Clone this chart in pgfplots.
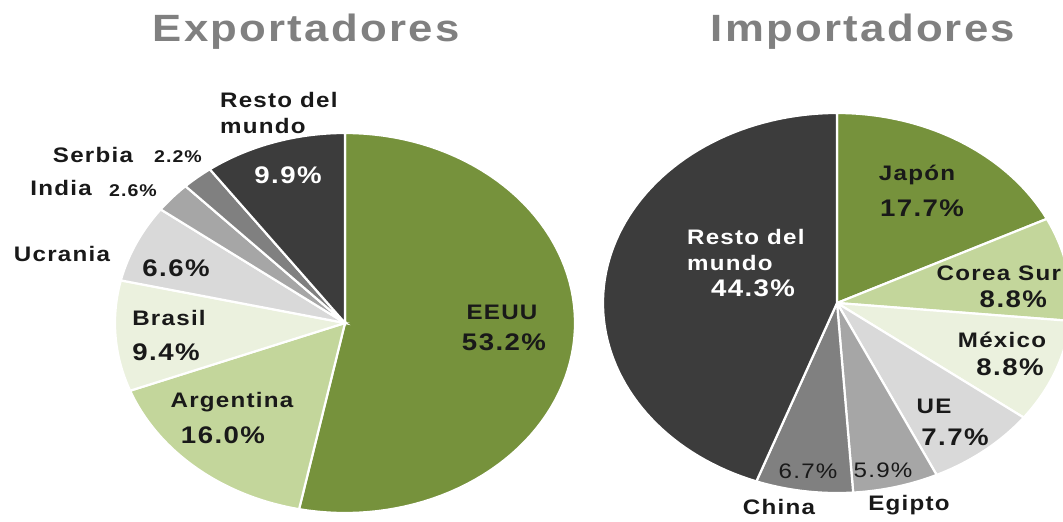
\documentclass[border=0pt]{standalone}
\usepackage{pgfplots}
\pgfplotsset{compat=1.18}
\usepackage{fontspec}
\setmainfont{Liberation Sans}[FakeStretch=1.15, LetterSpace=6]

\definecolor{cA}{RGB}{118,146,60}
\definecolor{cB}{RGB}{195,214,155}
\definecolor{cC}{RGB}{235,241,222}
\definecolor{cD}{RGB}{217,217,217}
\definecolor{cE}{RGB}{166,166,166}
\definecolor{cF}{RGB}{128,128,128}
\definecolor{cG}{RGB}{60,60,60}
\definecolor{txt}{RGB}{25,25,25}
\definecolor{ttl}{RGB}{128,128,128}

\newcommand\sStart{0}
\newcommand\slice[2]{%
  \pgfmathsetmacro\sEnd{\sStart+#1}%
  \edef\tmp{\noexpand\addplot[fill=#2,draw=white,line width=1.1pt,domain=\sStart:\sEnd,samples=80]
    ({cos(90-3.6*x)},{sin(90-3.6*x)}) -- (axis cs:0,0) -- cycle;}%
  \tmp
  \xdef\sStart{\sEnd}}

\newcommand\fnm{\fontsize{10.5}{13.2}\selectfont\bfseries}
\newcommand\fpc{\fontsize{12}{13}\selectfont\bfseries}
\newcommand\fsm{\fontsize{8.5}{10}\selectfont\bfseries}
\newcommand\fmd{\fontsize{10.5}{11}\selectfont}

\begin{document}
\begin{tikzpicture}
\path[use as bounding box] (0,0) rectangle (531.5pt,260.5pt);
% ---------------- Exportadores
\begin{axis}[at={(172.5pt,99pt)},anchor=center,width=230pt,height=190pt,scale only axis,
  xmin=-1,xmax=1,ymin=-1,ymax=1,hide axis,clip=false]
\gdef\sStart{0}
\slice{53.2}{cA}% EEUU
\slice{16.0}{cB}% Argentina
\slice{9.4}{cC}% Brasil
\slice{6.6}{cD}% Ucrania
\slice{2.6}{cE}% India
\slice{2.2}{cF}% Serbia
\slice{10.0}{cG}% Resto del mundo (9.9)
\end{axis}
% ---------------- Importadores
\begin{axis}[at={(418.5pt,109pt)},anchor=center,width=234pt,height=190pt,scale only axis,
  xmin=-1,xmax=1,ymin=-1,ymax=1,hide axis,clip=false]
\gdef\sStart{0}
\slice{17.7}{cA}% Japon
\slice{8.8}{cB}% Corea Sur
\slice{8.8}{cC}% Mexico
\slice{7.7}{cD}% UE
\slice{5.9}{cE}% Egipto
\slice{6.7}{cF}% China
\slice{44.4}{cG}% Resto del mundo (44.3)
\end{axis}

\begin{scope}[x=0.5pt,y=-0.5pt,yshift=260.5pt,text=txt]
% titles
\node[text=ttl,font=\fontsize{19}{20}\selectfont\bfseries] at (306,32) {Exportadores};
\node[text=ttl,font=\fontsize{19}{20}\selectfont\bfseries] at (863,32) {Importadores};
% labels exportadores
\node[font=\fnm,align=left,anchor=west] at (213,113) {Resto del\\mundo};
\node[font=\fpc,text=white] at (288,175) {9.9\%};
\node[font=\fnm] at (93,155) {Serbia};
\node[font=\fsm] at (178,157) {2.2\%};
\node[font=\fnm] at (61,188) {India};
\node[font=\fsm] at (133,191) {2.6\%};
\node[font=\fnm] at (62,254) {Ucrania};
\node[font=\fpc] at (176,268) {6.6\%};
\node[font=\fnm] at (169,318) {Brasil};
\node[font=\fpc] at (166,352) {9.4\%};
\node[font=\fnm] at (232,402) {Argentina};
\node[font=\fpc] at (223,435) {16.0\%};
\node[font=\fnm] at (502,312) {EEUU};
\node[font=\fpc] at (504,342) {53.2\%};
% labels importadores
\node[font=\fnm] at (917,175) {Japón};
\node[font=\fpc] at (922,208) {17.7\%};
\node[font=\fnm,align=left,anchor=west,text=white] at (680,250) {Resto del\\mundo};
\node[font=\fpc,text=white] at (753,288) {44.3\%};
\node[font=\fnm,anchor=east] at (1068,273) {Corea Sur};
\node[font=\fpc,anchor=east] at (1054,299) {8.8\%};
\node[font=\fnm] at (1002,340) {México};
\node[font=\fpc] at (1010,367) {8.8\%};
\node[font=\fnm] at (934,406) {UE};
\node[font=\fpc] at (955,437) {7.7\%};
\node[font=\fmd] at (808,471) {6.7\%};
\node[font=\fmd] at (883,470) {5.9\%};
\node[font=\fnm] at (779,507) {China};
\node[font=\fnm] at (909,505) {Egipto};
\end{scope}
\end{tikzpicture}
\end{document}
